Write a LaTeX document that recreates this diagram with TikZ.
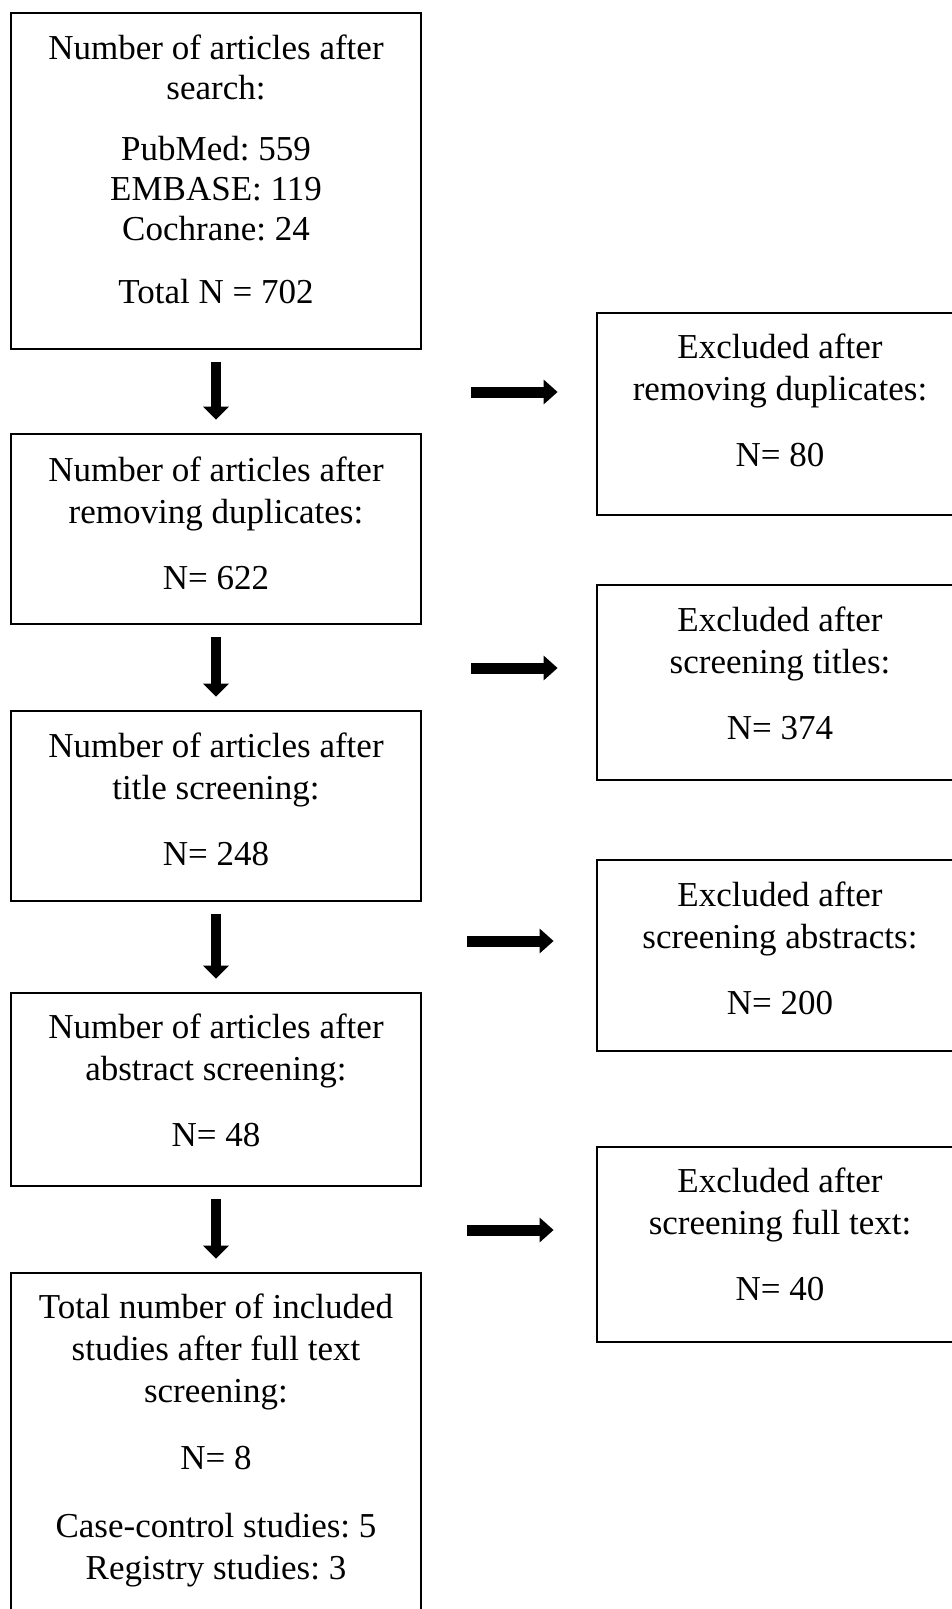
\documentclass[tikz,border=0pt]{standalone}
\usepackage{fontspec}
\setmainfont{Liberation Serif}
\usetikzlibrary{arrows.meta,positioning}
\frenchspacing
\tikzstyle{frame}=[draw, line width=2.8pt, inner sep=0pt]
\tikzstyle{leftbox}=[frame, minimum width=410pt]
\tikzstyle{rightbox}=[frame, minimum width=366pt]
\tikzstyle{boxtext}=[align=center, inner sep=0pt, font=\fontsize{35}{42}\selectfont]
\tikzstyle{downArrow}=[line width=9.5pt, -{Triangle[length=13pt,width=25pt]}, shorten <=12pt, shorten >=13pt]
\tikzstyle{sideArrow}=[line width=11pt, -{Triangle[length=14pt,width=24pt]}]

\begin{document}
\begin{tikzpicture}[x=1pt, y=-1pt]
    \useasboundingbox (0,0) rectangle (952,1609);
    \clip (0,0) rectangle (952,1609);

    % left column
    \node[leftbox, minimum height=336pt] (b1) at (216, 181) {};
    \node[leftbox, minimum height=190pt] (b2) at (216, 529) {};
    \node[leftbox, minimum height=190pt] (b3) at (216, 806) {};
    \node[leftbox, minimum height=193pt] (b4) at (216, 1089.5) {};
    \node[leftbox, minimum height=367pt] (b5) at (216, 1456.5) {};

    \node[boxtext, font=\fontsize{35}{40}\selectfont, below=23pt of b1.north] (t1) {Number of articles after\\ search:\\[21pt] PubMed: 559\\ EMBASE: 119\\ Cochrane: 24\\[23pt] Total N = 702};
    \node[boxtext, below=24pt of b2.north] (t2) {Number of articles after\\ removing duplicates:\\[24pt] N= 622};
    \node[boxtext, below=23pt of b3.north] (t3) {Number of articles after\\ title screening:\\[24pt] N= 248};
    \node[boxtext, below=22pt of b4.north] (t4) {Number of articles after\\ abstract screening:\\[24pt] N= 48};
    \node[boxtext, below=22pt of b5.north] (t5) {Total number of included\\ studies after full text\\ screening:\\[25pt] N= 8\\[26pt] Case-control studies: 5\\ Registry studies: 3};

    % right column
    \node[rightbox, minimum height=202pt] (r1) at (780, 414) {};
    \node[rightbox, minimum height=195pt] (r2) at (780, 682.5) {};
    \node[rightbox, minimum height=191pt] (r3) at (780, 955.5) {};
    \node[rightbox, minimum height=195pt] (r4) at (780, 1244.5) {};

    \node[boxtext, below=22pt of r1.north] (u1) {Excluded after\\ removing duplicates:\\[24pt] N= 80};
    \node[boxtext, below=23pt of r2.north] (u2) {Excluded after\\ screening titles:\\[24pt] N= 374};
    \node[boxtext, below=23pt of r3.north] (u3) {Excluded after\\ screening abstracts:\\[24pt] N= 200};
    \node[boxtext, below=22pt of r4.north] (u4) {Excluded after\\ screening full text:\\[24pt] N= 40};

    % Arrows
    \draw[downArrow] (b1) -- (b2);
    \draw[downArrow] (b2) -- (b3);
    \draw[downArrow] (b3) -- (b4);
    \draw[downArrow] (b4) -- (b5);

    \coordinate (s1) at (471, 392);
    \coordinate (s2) at (471, 668);
    \coordinate (s3) at (467, 941);
    \coordinate (s4) at (467, 1230);
    \draw[sideArrow, shorten >=38pt] (s1) -- (s1 -| r1.west);
    \draw[sideArrow, shorten >=38pt] (s2) -- (s2 -| r2.west);
    \draw[sideArrow, shorten >=42pt] (s3) -- (s3 -| r3.west);
    \draw[sideArrow, shorten >=42pt] (s4) -- (s4 -| r4.west);

\end{tikzpicture}
\end{document}
